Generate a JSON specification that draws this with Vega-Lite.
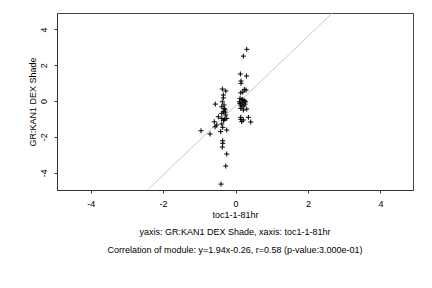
{
  "$schema": "https://vega.github.io/schema/vega-lite/v6.json",
  "autosize": "none",
  "width": 356,
  "height": 177,
  "padding": {"left": 57, "top": 13, "right": 19, "bottom": 98},
  "background": "white",
  "config": {
    "view": {"stroke": "#444", "strokeWidth": 1},
    "font": "Liberation Sans",
    "axis": {
      "grid": false,
      "domainColor": "#333",
      "tickColor": "#333",
      "tickSize": 3,
      "labelFont": "Liberation Sans",
      "labelFontSize": 9,
      "labelColor": "black",
      "titleFont": "Liberation Sans",
      "titleFontSize": 9,
      "titleFontWeight": "normal",
      "titleColor": "black"
    }
  },
  "title": {
    "text": "yaxis: GR:KAN1 DEX Shade, xaxis: toc1-1-81hr",
    "subtitle": "Correlation of module: y=1.94x-0.26, r=0.58 (p-value:3.000e-01)",
    "orient": "bottom",
    "anchor": "middle",
    "frame": "group",
    "font": "Liberation Sans",
    "fontSize": 9,
    "fontWeight": "normal",
    "color": "black",
    "subtitleFont": "Liberation Sans",
    "subtitleFontSize": 9,
    "subtitleColor": "black",
    "subtitlePadding": 9,
    "offset": 9
  },
  "datasets": {
    "points": [
      {"x": 0.31, "y": 2.89}, {"x": 0.216, "y": 2.51}, {"x": 0.133, "y": 1.51}, {"x": 0.30, "y": 1.40},
      {"x": 0.152, "y": 1.12}, {"x": 0.152, "y": 0.99}, {"x": 0.243, "y": 0.65}, {"x": 0.29, "y": 0.61},
      {"x": 0.199, "y": 0.50}, {"x": 0.144, "y": 0.46}, {"x": 0.124, "y": 0.15}, {"x": 0.171, "y": 0.056},
      {"x": 0.243, "y": 0.017}, {"x": 0.105, "y": -0.04}, {"x": 0.199, "y": -0.09}, {"x": 0.144, "y": -0.22},
      {"x": 0.262, "y": -0.17}, {"x": 0.171, "y": -0.32}, {"x": 0.309, "y": -0.45}, {"x": 0.216, "y": -0.50},
      {"x": 0.144, "y": -0.41}, {"x": 0.144, "y": -0.91}, {"x": 0.144, "y": -1.02}, {"x": 0.216, "y": -1.06},
      {"x": 0.171, "y": -1.15}, {"x": 0.354, "y": -0.91}, {"x": 0.42, "y": -1.17}, {"x": 0.199, "y": 0.09},
      {"x": 0.23, "y": -0.27}, {"x": 0.124, "y": -0.13}, {"x": 0.28, "y": -0.04},
      {"x": -0.364, "y": 0.67}, {"x": -0.27, "y": 0.56}, {"x": -0.337, "y": 0.335}, {"x": -0.337, "y": 0.18},
      {"x": -0.558, "y": -0.17}, {"x": -0.364, "y": -0.04}, {"x": -0.318, "y": -0.22}, {"x": -0.38, "y": -0.32},
      {"x": -0.29, "y": -0.50}, {"x": -0.337, "y": -0.60}, {"x": -0.475, "y": -0.88}, {"x": -0.38, "y": -0.69},
      {"x": -0.27, "y": -0.78}, {"x": -0.243, "y": -0.97}, {"x": -0.30, "y": -1.02}, {"x": -0.38, "y": -0.97},
      {"x": -0.586, "y": -1.16}, {"x": -0.52, "y": -1.34}, {"x": -0.566, "y": -1.44}, {"x": -0.38, "y": -1.28},
      {"x": -0.354, "y": -1.47}, {"x": -0.243, "y": -1.62}, {"x": -0.41, "y": -1.71}, {"x": -0.953, "y": -1.66},
      {"x": -0.704, "y": -1.84}, {"x": -0.354, "y": -2.22}, {"x": -0.354, "y": -2.36}, {"x": -0.364, "y": -2.57},
      {"x": -0.243, "y": -2.96}, {"x": -0.27, "y": -3.63}, {"x": -0.40, "y": -4.64},
      {"x": -0.31, "y": -0.42}, {"x": -0.29, "y": -0.62}, {"x": -0.33, "y": -1.08}
    ],
    "fit": [
      {"x": -2.43, "y": -4.97},
      {"x": 2.67, "y": 4.92}
    ]
  },
  "layer": [
    {
      "data": {"name": "fit"},
      "mark": {"type": "line", "color": "#c8c8c8", "strokeWidth": 1, "clip": true},
      "encoding": {
        "x": {"field": "x", "type": "quantitative"},
        "y": {"field": "y", "type": "quantitative"}
      }
    },
    {
      "data": {"name": "points"},
      "mark": {"type": "point", "shape": "M-1,0H1M0,-1V1", "filled": false, "color": "black", "strokeWidth": 1, "size": 25, "opacity": 1},
      "encoding": {
        "x": {
          "field": "x", "type": "quantitative",
          "scale": {"domain": [-4.93, 4.9], "nice": false, "zero": false},
          "axis": {"values": [-4, -2, 0, 2, 4], "title": "toc1-1-81hr", "labelPadding": 6, "titlePadding": 2, "labelExpr": "'' + datum.value"}
        },
        "y": {
          "field": "y", "type": "quantitative",
          "scale": {"domain": [-4.97, 4.92], "nice": false, "zero": false},
          "axis": {"values": [-4, -2, 0, 2, 4], "title": "GR:KAN1 DEX Shade", "labelAngle": -90, "labelAlign": "center", "labelBaseline": "bottom", "labelPadding": 6, "titlePadding": 2, "labelExpr": "'' + datum.value"}
        }
      }
    }
  ]
}
